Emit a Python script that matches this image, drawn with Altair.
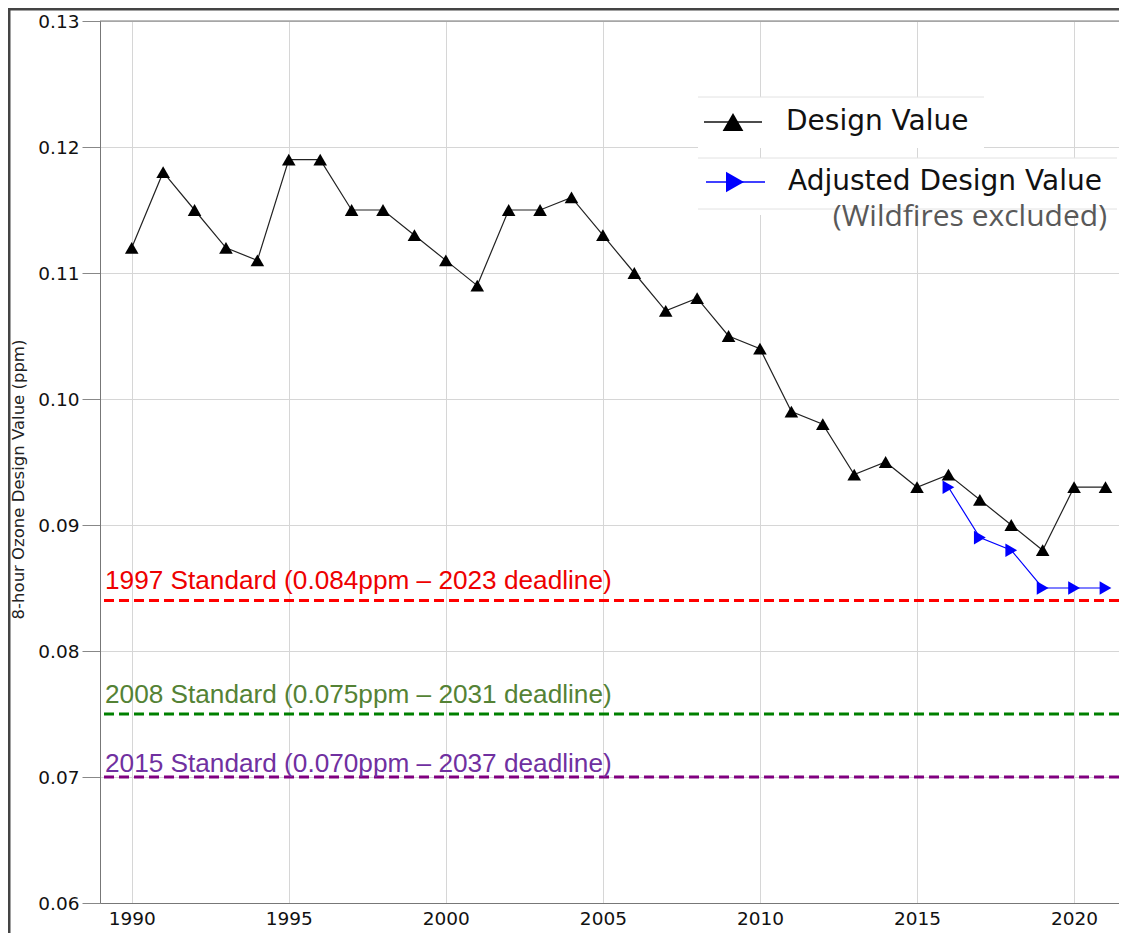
import altair as alt
import pandas as pd

# ---------------- data ----------------
years = list(range(1990, 2022))
design_values = [0.112, 0.118, 0.115, 0.112, 0.111, 0.119, 0.119, 0.115, 0.115, 0.113,
                 0.111, 0.109, 0.115, 0.115, 0.116, 0.113, 0.110, 0.107, 0.108, 0.105,
                 0.104, 0.099, 0.098, 0.094, 0.095, 0.093, 0.094, 0.092, 0.090, 0.088,
                 0.093, 0.093]
adj_years = [2016, 2017, 2018, 2019, 2020, 2021]
adj_values = [0.093, 0.089, 0.088, 0.085, 0.085, 0.085]
std_values = [0.084, 0.075, 0.070]
std_labels = ["1997 Standard (0.084ppm – 2023 deadline)",
              "2008 Standard (0.075ppm – 2031 deadline)",
              "2015 Standard (0.070ppm – 2037 deadline)"]
y_ticks = [0.06, 0.07, 0.08, 0.09, 0.10, 0.11, 0.12, 0.13]
x_ticks = [1990, 1995, 2000, 2005, 2010, 2015, 2020]
legend_labels = ["Design Value", "Adjusted Design Value", "(Wildfires excluded)"]
y_title = "8-hour Ozone Design Value (ppm)"

# ---------------- styles ----------------
W, H = 1019, 882
X_DOMAIN = [1988.99, 2021.43]
Y_DOMAIN = [0.06, 0.13]
line_colors = ["#ff0000", "#008000", "#800080"]
text_colors = ["#ee0000", "#548235", "#7030a0"]
text_dy = [-12, -11, -5]
TICK_FONT = "DejaVu Sans"

x_axis = alt.Axis(values=x_ticks, format="d", title=None, ticks=False, tickSize=0,
                  labelPadding=6, labelFontSize=18.5, labelFont=TICK_FONT,
                  labelColor="#111", domainColor="#777", grid=True,
                  gridColor="#d6d6d6", gridWidth=1)
y_axis = alt.Axis(values=y_ticks, format=".2f", title=y_title, tickSize=18,
                  tickColor="#888", labelPadding=3, labelFontSize=18.5,
                  labelFont=TICK_FONT, labelColor="#111", domainColor="#777",
                  grid=True, gridColor="#d6d6d6", gridWidth=1,
                  titleFont=TICK_FONT, titleFontSize=16.5, titleFontWeight="normal",
                  titleColor="#222", titlePadding=11, titleY=458)


def xenc(field):
    return alt.X(f"{field}:Q", scale=alt.Scale(domain=X_DOMAIN, nice=False, zero=False),
                 axis=x_axis)


def yenc(field):
    return alt.Y(f"{field}:Q", scale=alt.Scale(domain=Y_DOMAIN, nice=False, zero=False),
                 axis=y_axis)


df_dv = pd.DataFrame({"year": years, "value": design_values})
df_adj = pd.DataFrame({"year": adj_years, "value": adj_values})
df_std = pd.DataFrame({"value": std_values, "label": std_labels})

one = alt.Data(values=[{}])

# frame around the whole figure
frame = alt.Chart(one).mark_rect(fillOpacity=0, stroke="#444", strokeWidth=3).encode(
    x=alt.value(-91), x2=alt.value(W + 100), y=alt.value(-12), y2=alt.value(H + 100))

# top spine
top_spine = alt.Chart(one).mark_rule(color="#777", strokeWidth=1).encode(
    x=alt.value(0), x2=alt.value(W), y=alt.value(0))

# standards
std_rules = alt.Chart(df_std).mark_rule(strokeDash=[10, 5], strokeWidth=3).encode(
    y=yenc("value"),
    color=alt.Color("label:N", scale=alt.Scale(domain=std_labels, range=line_colors),
                    legend=None))

std_texts = []
for i, lab in enumerate(std_labels):
    std_texts.append(
        alt.Chart(df_std).transform_filter(alt.datum.label == lab).mark_text(
            align="left", baseline="alphabetic", dy=text_dy[i], fontSize=26.2,
            font="Liberation Sans", color=text_colors[i]).encode(
            x=alt.value(5), y=yenc("value"), text="label:N"))

# data lines
dv_line = alt.Chart(df_dv).mark_line(color="#222", strokeWidth=1.2).encode(
    x=xenc("year"), y=yenc("value"))
dv_pts = alt.Chart(df_dv).mark_point(shape="triangle-up", filled=True, size=185,
                                     color="#000", opacity=1).encode(
    x=xenc("year"), y=yenc("value"))
adj_line = alt.Chart(df_adj).mark_line(color="#0000ff", strokeWidth=1.2).encode(
    x=xenc("year"), y=yenc("value"))
adj_pts = alt.Chart(df_adj).mark_point(shape="triangle-right", filled=True, size=185,
                                       color="#0000ff", opacity=1).encode(
    x=xenc("year"), y=yenc("value"))

# legend (drawn in pixel space)
box1 = alt.Chart(one).mark_rect(fill="white").encode(
    x=alt.value(598), x2=alt.value(884), y=alt.value(76), y2=alt.value(127))
box2 = alt.Chart(one).mark_rect(fill="white").encode(
    x=alt.value(598), x2=alt.value(1017), y=alt.value(137), y2=alt.value(194))
box_lines = [
    alt.Chart(one).mark_rule(color="#e2e2e2", strokeWidth=1).encode(
        x=alt.value(x1), x2=alt.value(x2), y=alt.value(yy))
    for (x1, x2, yy) in [(598, 884, 76), (598, 1017, 137), (598, 1017, 188)]
]
leg_line1 = alt.Chart(one).mark_rule(color="#111", strokeWidth=1.5).encode(
    x=alt.value(604), x2=alt.value(662), y=alt.value(101))
leg_pt1 = alt.Chart(one).mark_point(shape="triangle-up", filled=True, size=430,
                                    color="#000", opacity=1).encode(
    x=alt.value(633), y=alt.value(101))
leg_line2 = alt.Chart(one).mark_rule(color="#0000ff", strokeWidth=1.5).encode(
    x=alt.value(606), x2=alt.value(665), y=alt.value(161))
leg_pt2 = alt.Chart(one).mark_point(shape="triangle-right", filled=True, size=430,
                                    color="#0000ff", opacity=1).encode(
    x=alt.value(635), y=alt.value(161))
df_leg = pd.DataFrame({"t": legend_labels})
leg_t1 = alt.Chart(df_leg).transform_filter(alt.datum.t == legend_labels[0]).mark_text(
    align="left", baseline="middle", fontSize=28, font="DejaVu Sans", color="#111").encode(
    x=alt.value(686), y=alt.value(101), text="t:N")
leg_t2 = alt.Chart(df_leg).transform_filter(alt.datum.t == legend_labels[1]).mark_text(
    align="left", baseline="middle", fontSize=28, font="DejaVu Sans", color="#111").encode(
    x=alt.value(688), y=alt.value(161), text="t:N")
leg_t3 = alt.Chart(df_leg).transform_filter(alt.datum.t == legend_labels[2]).mark_text(
    align="right", baseline="middle", fontSize=30, font="Open Sans", color="#595959").encode(
    x=alt.value(1007), y=alt.value(196), text="t:N")

chart = alt.layer(
    std_rules, *std_texts, top_spine,
    box1, box2, *box_lines,
    adj_line, dv_line, dv_pts, adj_pts,
    leg_line1, leg_pt1, leg_line2, leg_pt2, leg_t1, leg_t2, leg_t3,
    frame,
).properties(
    width=W, height=H,
    autosize=alt.AutoSizeParams(type="none"),
    padding={"left": 92, "top": 13, "right": 0, "bottom": 30},
).configure_view(stroke=None).configure(background="white")

chart.save("out.html", embed_options={"renderer": "svg", "actions": False})
